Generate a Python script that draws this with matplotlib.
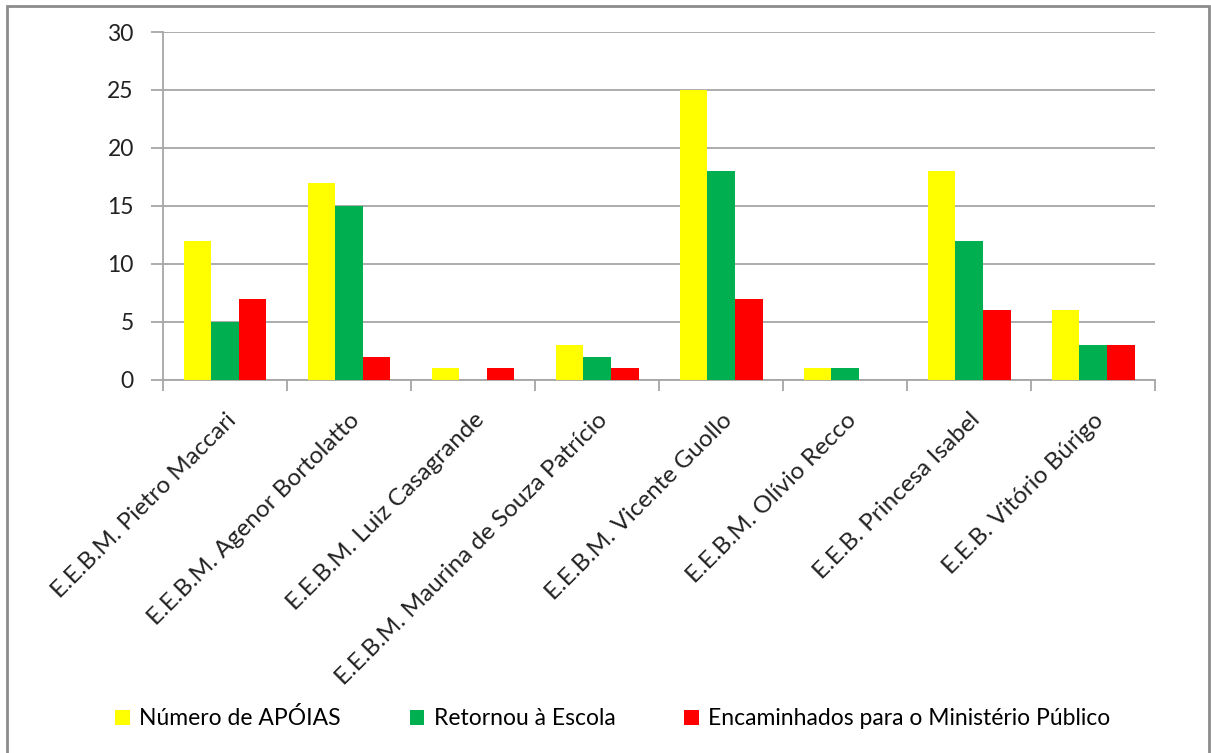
import matplotlib
matplotlib.use("Agg")
import matplotlib.pyplot as plt
from matplotlib.patches import Rectangle
import numpy as np

plt.rcParams['font.family'] = ['Lato', 'DejaVu Sans']

escolas = [
    'E.E.B.M. Pietro Maccari',
    'E.E.B.M. Agenor Bortolatto',
    'E.E.B.M. Luiz Casagrande',
    'E.E.B.M. Maurina de Souza Patrício',
    'E.E.B.M. Vicente Guollo',
    'E.E.B.M. Olívio Recco',
    'E.E.B. Princesa Isabel',
    'E.E.B. Vitório Búrigo',
]
apoias = [12, 17, 1, 3, 25, 1, 18, 6]
retornou = [5, 15, 0, 2, 18, 1, 12, 3]
encaminhados = [7, 2, 1, 1, 7, 0, 6, 3]

series = [
    ('Número de APÓIAS', apoias, '#FFFF00'),
    ('Retornou à Escola', retornou, '#00B050'),
    ('Encaminhados para o Ministério Público', encaminhados, '#FF0000'),
]

fig = plt.figure(figsize=(12.11, 7.53), dpi=100)
ax = fig.add_axes([0.1346, 0.4954, 0.8192, 0.4621])

x = np.arange(len(escolas))
w = 0.223
for i, (nome, vals, cor) in enumerate(series):
    ax.bar(x + (i - 1) * w, vals, w, color=cor, label=nome, zorder=3)

ax.set_xlim(-0.5, len(escolas) - 0.5)
ax.set_ylim(0, 30)
ax.set_yticks(range(0, 31, 5))
ax.yaxis.grid(True, color='#A6A6A6', linewidth=1.3, zorder=0)
ax.set_axisbelow(True)

for s in ['top', 'right']:
    ax.spines[s].set_visible(False)
ax.spines['left'].set_color('#A6A6A6')
ax.spines['bottom'].set_color('#A6A6A6')
ax.spines['left'].set_linewidth(1.3)
ax.spines['bottom'].set_linewidth(1.3)

ax.tick_params(axis='y', length=9, width=1.3, color='#A6A6A6', labelsize=16.5,
               labelcolor='#222222', pad=12)
ax.set_xticks(x)
ax.set_xticklabels(escolas, rotation=45, ha='right', va='top',
                   rotation_mode='anchor', fontsize=17.5, color='#222222')
ax.tick_params(axis='x', length=0, pad=21)
ax.set_xticks(np.arange(-0.5, len(escolas)), minor=True)
ax.tick_params(axis='x', which='minor', length=8, width=1.3, color='#A6A6A6')

fig.legend(loc='center', bbox_to_anchor=(0.506, 0.046), ncol=3, frameon=False,
           fontsize=16.5, handlelength=0.65, handleheight=0.65, handletextpad=0.4,
           columnspacing=3.0)

fig.patches.append(Rectangle((0.006, -0.01), 0.992, 1.002, transform=fig.transFigure,
                             fill=False, edgecolor='#8C8C8C', linewidth=2))

fig.savefig('out.png', dpi=100, facecolor='white')
